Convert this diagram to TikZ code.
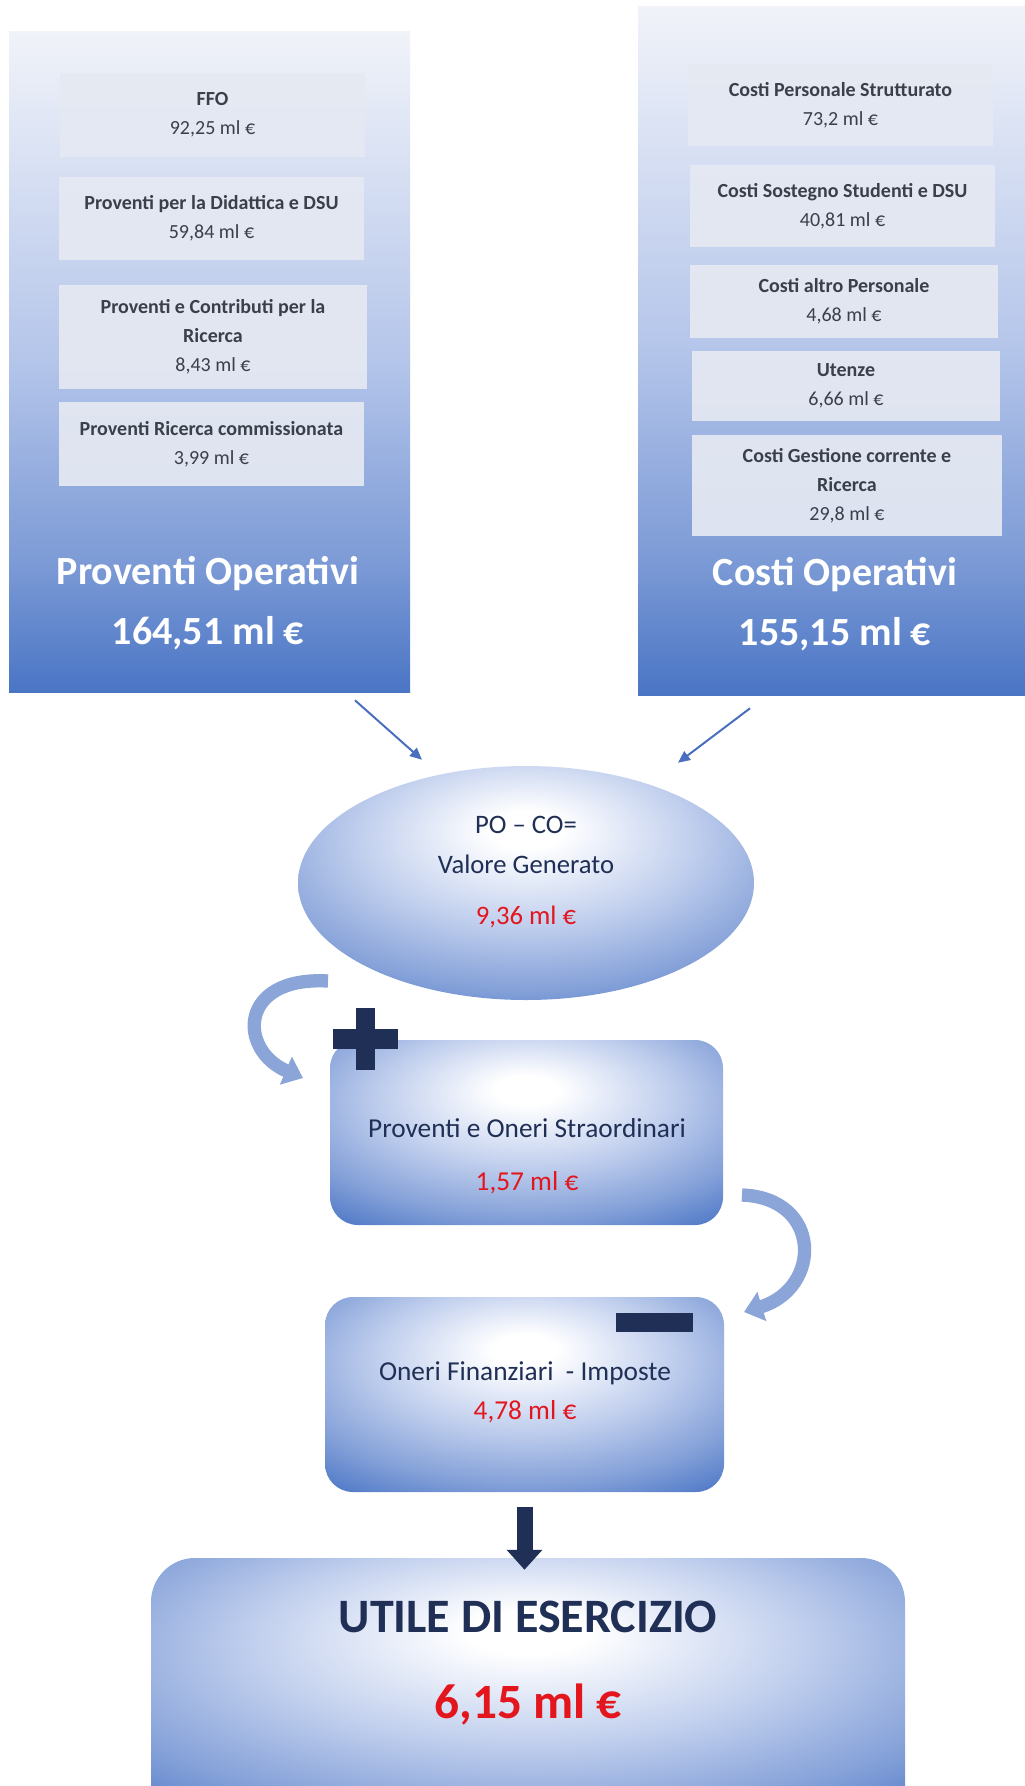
\documentclass[tikz,border=0pt]{standalone}
\usepackage{fontspec}
\setmainfont{Carlito}
\usetikzlibrary{shapes.geometric,arrows.meta}
\definecolor{navy}{HTML}{1F2F55}
\definecolor{accent}{HTML}{4A6FC0}
\definecolor{pT}{HTML}{F1F3F9}
\definecolor{pM1}{HTML}{B4C5EA}
\definecolor{pM2}{HTML}{7D9BD6}
\definecolor{pB}{HTML}{4A75C5}
\definecolor{bxL}{HTML}{C2D0EE}
\definecolor{bxM}{HTML}{86A2D9}
\definecolor{bxD}{HTML}{4A75C5}
\definecolor{innerfill}{HTML}{E5E9F2}
\definecolor{innertext}{HTML}{3A3F4A}
\definecolor{curv}{HTML}{8CA5D8}
\definecolor{valred}{HTML}{E3161E}
\pgfdeclareverticalshading{panelsh}{100bp}{color(0bp)=(pB); color(25bp)=(pB); color(35bp)=(pM2); color(50bp)=(pM1); color(75bp)=(pT); color(100bp)=(pT)}
\pgfdeclareradialshading{boxsh}{\pgfpoint{0bp}{12bp}}{color(0bp)=(white); color(4bp)=(white); color(18bp)=(bxL); color(30bp)=(bxM); color(40bp)=(bxD); color(80bp)=(bxD)}
\begin{document}
\begin{tikzpicture}[x=0.75pt,y=-0.75pt,
  panel/.style={rectangle, shading=panelsh, draw=none, inner sep=0pt},
  innerbox/.style={rectangle, fill=innerfill, fill opacity=0.92, text opacity=1, text=innertext, align=center, inner sep=0pt, font=\fontsize{15}{21.75}\selectfont},
  bigwhite/.style={text=white, align=center, font=\bfseries\fontsize{30}{45}\selectfont},
  gradbox/.style={rectangle, shading=boxsh, rounded corners=21pt, inner sep=0pt},
  midtext/.style={text=navy, align=center},
  thinarrow/.style={draw=accent, line width=1.5pt, -{Triangle[width=8pt,length=9pt]}},
  curvarrow/.style={draw=curv, line width=10pt, -{Triangle[width=22pt,length=14pt]}},
  downarrow/.style={draw=navy, line width=12pt, -{Triangle[width=26pt,length=15pt]}},
  sign/.style={fill=navy}]
\useasboundingbox (0,0) rectangle (1025,1786);
\fill[white] (0,0) rectangle (1025,1786);

% panels
\node[panel, minimum width=300.75pt, minimum height=495.75pt] (PO) at (209.5,361.5) {};
\node[panel, minimum width=290.25pt, minimum height=516.75pt] (CO) at (831.5,350.5) {};

% inner boxes left
\node[innerbox, minimum width=228.75pt, minimum height=63pt] (ffo) at (212.5,115) {\textbf{FFO}\\92,25 ml €};
\node[innerbox, minimum width=228.75pt, minimum height=62.25pt] (did) at (211.5,218.5) {\textbf{Proventi per la Didattica e DSU}\\59,84 ml €};
\node[innerbox, minimum width=231pt, minimum height=78pt] (ric) at (213,337) {\textbf{Proventi e Contributi per la}\\\textbf{Ricerca}\\8,43 ml €};
\node[innerbox, minimum width=228.75pt, minimum height=63pt] (com) at (211.5,444) {\textbf{Proventi Ricerca commissionata}\\3,99 ml €};

% inner boxes right
\node[innerbox, minimum width=228.75pt, minimum height=61.5pt] (cps) at (840.5,105) {\textbf{Costi Personale Strutturato}\\73,2 ml €};
\node[innerbox, minimum width=228.75pt, minimum height=61.5pt] (css) at (842.5,206) {\textbf{Costi Sostegno Studenti e DSU}\\40,81 ml €};
\node[innerbox, minimum width=231pt, minimum height=54.75pt] (cap) at (844,301.5) {\textbf{Costi altro Personale}\\4,68 ml €};
\node[innerbox, minimum width=231pt, minimum height=52.5pt] (ute) at (846,386) {\textbf{Utenze}\\6,66 ml €};
\node[innerbox, minimum width=232.5pt, minimum height=75.75pt] (cgr) at (847,485.5) {\textbf{Costi Gestione corrente e}\\\textbf{Ricerca}\\29,8 ml €};

% panel totals
\node[bigwhite] (POt) at (208,603) {Proventi Operativi\\164,51 ml €};
\node[bigwhite] (COt) at (835,604.5) {Costi Operativi\\155,15 ml €};

% ellipse
\node[ellipse, shading=boxsh, minimum width=342pt, minimum height=175.5pt, inner sep=0pt] (VG) at (526,883) {};
\node[midtext, font=\fontsize{20}{30}\selectfont] (VGt) at (526,872) {PO – CO=\\Valore Generato\\[8pt]\textcolor{valred}{9,36 ml €}};

\draw[thinarrow] ([xshift=109.1pt,yshift=-6pt]PO.south) -- ([xshift=-78pt,yshift=4.5pt]VG.north);
\draw[thinarrow] ([xshift=-61.1pt,yshift=-9.75pt]CO.south) -- ([xshift=114pt,yshift=2.25pt]VG.north);

% box 1
\node[gradbox, minimum width=294.75pt, minimum height=138.75pt] (B1) at (526.5,1132.5) {};
\node[midtext, font=\fontsize{20.5}{39.75}\selectfont] (B1t) at (527,1156.5) {Proventi e Oneri Straordinari\\\textcolor{valred}{1,57 ml €}};
\fill[sign] (333,1029) rectangle (398,1049);
\fill[sign] (356,1008) rectangle (375,1070);

% curved arrow left
\coordinate (c1s) at (328,981);
\coordinate (c1e) at (303,1078);
\draw[curvarrow] (c1s) .. controls (238,976) and (238,1050) .. (c1e);

% box 2
\node[gradbox, minimum width=299.25pt, minimum height=146.25pt] (B2) at (524.5,1394.5) {};
\node[midtext, font=\fontsize{20.5}{29.25}\selectfont] (B2t) at (525,1392.5) {Oneri Finanziari~ - Imposte\\\textcolor{valred}{4,78 ml €}};
\fill[sign] (616,1313) rectangle (693,1332);

% curved arrow right
\coordinate (c2s) at (742,1195);
\coordinate (c2e) at (744,1312);
\draw[curvarrow] (c2s) .. controls (822,1198) and (822,1288) .. (c2e);

% box 3
\node[gradbox, rounded corners=33pt, minimum width=565.5pt, minimum height=204pt] (B3) at (528,1694) {};
\node[midtext, font=\bfseries\fontsize{36}{40}\selectfont] (B3t) at (528,1617) {UTILE DI ESERCIZIO};
\node[text=valred, font=\bfseries\fontsize{37}{42}\selectfont] (B3v) at (528,1705) {6,15 ml €};

\draw[downarrow, shorten <=11pt, shorten >=-9pt] (B2.south) -- (B2.south |- B3.north);
\end{tikzpicture}
\end{document}
